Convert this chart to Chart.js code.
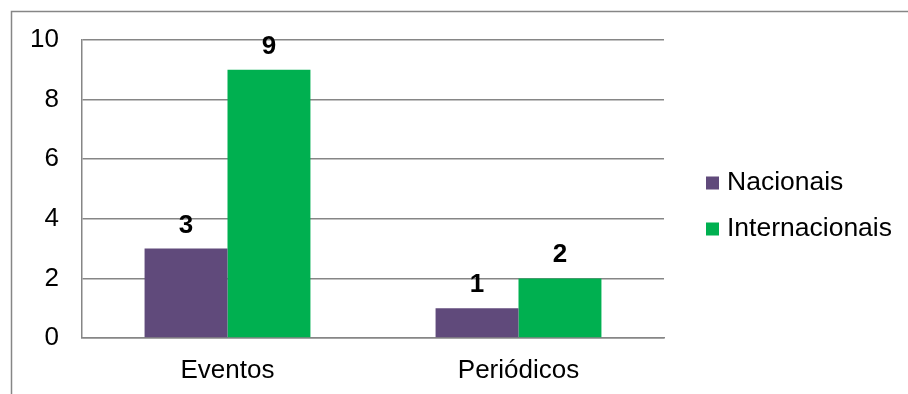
<!DOCTYPE html>
<html>
<head>
<meta charset="utf-8">
<script src="https://cdn.jsdelivr.net/npm/chart.js@4/dist/chart.umd.min.js"></script>
<style>
  html, body { margin: 0; padding: 0; background: #fff; }
  canvas { display: block; }
</style>
</head>
<body>
<canvas id="pubChart" width="908" height="394"></canvas>
<script>
// Publication counts by type
var categories = ['Eventos', 'Periódicos'];
var nacionais = [3, 1];
var internacionais = [9, 2];
var yTicks = [0, 2, 4, 6, 8, 10];

var FONT = '"Liberation Sans", Arial, sans-serif';
var GRID = '#868686';

// Outer frame around the chart
var framePlugin = {
    id: 'frame',
    beforeDraw: function (chart) {
        var ctx = chart.ctx;
        ctx.save();
        ctx.fillStyle = '#fff';
        ctx.fillRect(0, 0, chart.width, chart.height);
        ctx.strokeStyle = GRID;
        ctx.lineWidth = 1.5;
        ctx.strokeRect(11.5, 11.5, chart.width + 20, chart.height + 20);
        ctx.restore();
    }
};

// Value labels above each bar
var valueLabels = {
    id: 'valueLabels',
    afterDatasetsDraw: function (chart) {
        var ctx = chart.ctx;
        ctx.save();
        ctx.font = 'bold 26px ' + FONT;
        ctx.fillStyle = '#000';
        ctx.textAlign = 'center';
        ctx.textBaseline = 'alphabetic';
        chart.data.datasets.forEach(function (ds, i) {
            chart.getDatasetMeta(i).data.forEach(function (bar, j) {
                ctx.fillText(ds.data[j], bar.x, bar.y - 16);
            });
        });
        ctx.restore();
    }
};

// Legend on the right side
var sideLegend = {
    id: 'sideLegend',
    afterDraw: function (chart) {
        var ctx = chart.ctx;
        ctx.save();
        ctx.font = '26.5px ' + FONT;
        ctx.textBaseline = 'middle';
        chart.data.datasets.forEach(function (ds, i) {
            var cy = 183 + i * 46;
            ctx.fillStyle = ds.backgroundColor;
            ctx.fillRect(706, cy - 6.5, 13, 13);
            ctx.fillStyle = '#000';
            ctx.fillText(ds.label, 727, cy);
        });
        ctx.restore();
    }
};

var ctx = document.getElementById('pubChart').getContext('2d');
new Chart(ctx, {
    type: 'bar',
    data: {
        labels: categories,
        datasets: [
            { label: 'Nacionais', data: nacionais, backgroundColor: '#604a7b' },
            { label: 'Internacionais', data: internacionais, backgroundColor: '#00b050' }
        ]
    },
    options: {
        responsive: false,
        animation: false,
        datasets: {
            bar: { categoryPercentage: 0.57, barPercentage: 1.0 }
        },
        layout: {
            padding: { top: 40, right: 244, left: 0, bottom: 0 }
        },
        plugins: {
            legend: { display: false },
            tooltip: { enabled: false }
        },
        scales: {
            x: {
                grid: { display: false },
                border: { display: true, color: GRID, width: 1.5 },
                ticks: { color: '#000', font: { family: FONT, size: 26 }, padding: 9 },
                afterFit: function (scale) { scale.height = 56; }
            },
            y: {
                min: 0,
                max: 10,
                afterBuildTicks: function (scale) {
                    scale.ticks = yTicks.map(function (v) { return { value: v }; });
                },
                grid: { color: GRID, lineWidth: 1.5, drawTicks: false },
                border: { display: true, color: GRID, width: 1.5 },
                ticks: { color: '#000', font: { family: FONT, size: 26 }, padding: 23 },
                afterFit: function (scale) { scale.width = 82; }
            }
        }
    },
    plugins: [framePlugin, valueLabels, sideLegend]
});
</script>
</body>
</html>
